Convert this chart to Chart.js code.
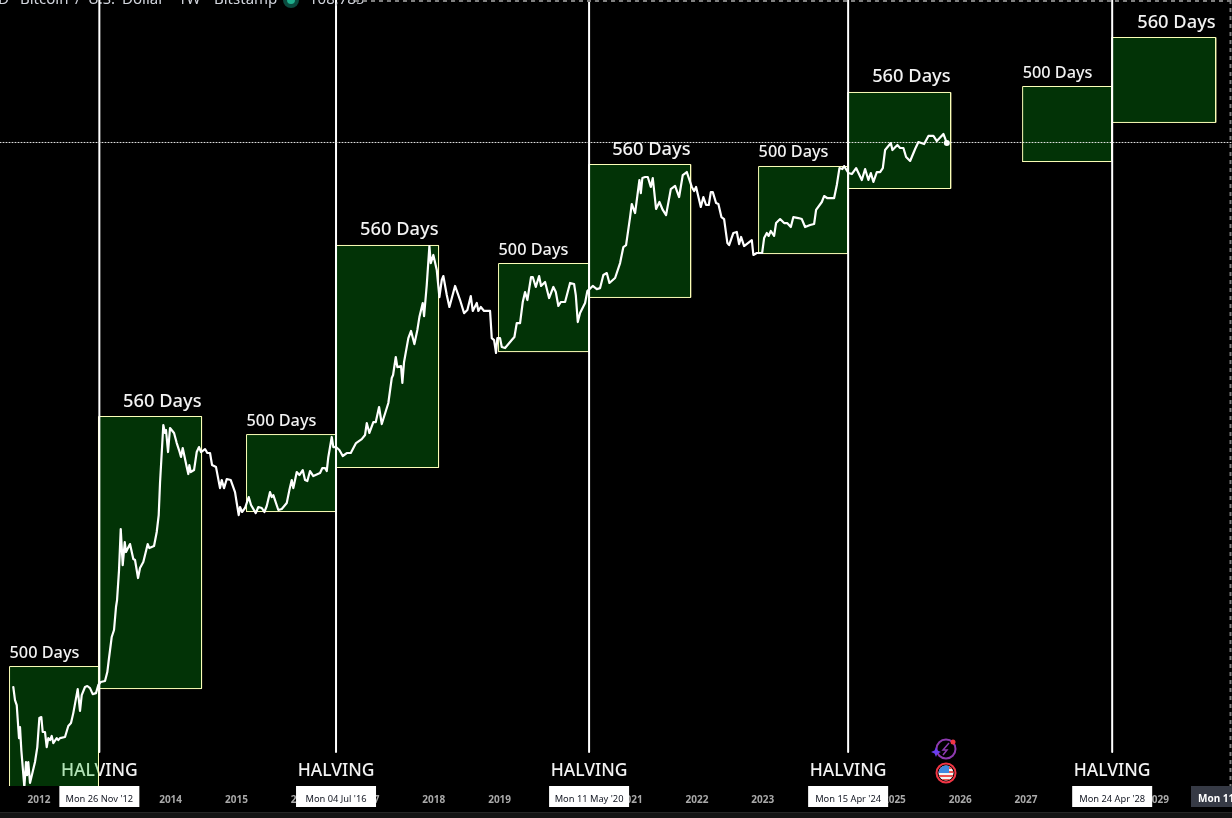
<!DOCTYPE html>
<html>
<head>
<meta charset="utf-8">
<title>Bitcoin halving cycles</title>
<script src="https://cdn.jsdelivr.net/npm/chart.js@4/dist/chart.umd.min.js"></script>
<style>
  html, body { margin: 0; padding: 0; background: #000; }
  #wrap { width: 1232px; height: 818px; }
</style>
</head>
<body>
<div id="wrap"><canvas id="chart" width="1232" height="818"></canvas></div>
<script>
// x values are decimal years, y values are log10 of the USD price (the source chart is log scale)
const cycle2012Years = [2011.609,2011.635,2011.661,2011.696,2011.711,2011.731,2011.777,2011.802,2011.818,2011.837,2011.863,2011.939,2011.974,2012.005,2012.035,2012.056,2012.091,2012.117,2012.141,2012.167,2012.193,2012.217,2012.269,2012.293,2012.319,2012.395,2012.445,2012.486,2012.521,2012.588,2012.623,2012.649,2012.699,2012.734,2012.775,2012.816,2012.866,2012.901];
const cycle2012Prices = [1.194,1.102,1.067,.834,.912,.75,.49,.666,.574,.666,.518,.666,.771,.975,.982,.877,.877,.771,.834,.82,.849,.799,.834,.82,.834,.842,.919,.94,1.01,1.179,1.025,1.137,1.194,1.201,1.186,1.144,1.151,1.208];

const cycle2013Years = [2012.938,2013.003,2013.038,2013.064,2013.105,2013.14,2013.17,2013.186,2013.216,2013.242,2013.272,2013.303,2013.322,2013.383,2013.433,2013.459,2013.505,2013.535,2013.585,2013.652,2013.677,2013.748,2013.789,2013.819,2013.839,2013.889,2013.915,2013.93,2013.961,2013.991,2014.052,2014.093,2014.128,2014.158,2014.184,2014.245,2014.269,2014.285,2014.306,2014.356,2014.397,2014.432,2014.462,2014.523,2014.558,2014.599,2014.63,2014.69,2014.751,2014.777,2014.812,2014.853,2014.914,2014.979,2015.005,2015.035,2015.055,2015.086,2015.131];
const cycle2013Prices = [1.229,1.236,1.299,1.398,1.546,1.595,1.757,1.806,2.017,2.306,2.052,2.214,2.144,2.2,2.095,2.088,1.961,2.031,2.074,2.2,2.172,2.186,2.285,2.404,2.63,3.038,2.982,3.003,2.848,3.017,2.982,2.911,2.862,2.813,2.876,2.742,2.693,2.756,2.707,2.721,2.848,2.883,2.848,2.869,2.841,2.841,2.756,2.742,2.594,2.651,2.594,2.658,2.651,2.566,2.489,2.404,2.461,2.426,2.454];

const cycle2016Years = [2015.187,2015.222,2015.294,2015.333,2015.385,2015.425,2015.461,2015.511,2015.537,2015.561,2015.637,2015.689,2015.765,2015.805,2015.841,2015.865,2015.917,2015.957,2016.008,2016.043,2016.078,2016.119,2016.169,2016.271,2016.306,2016.347,2016.373,2016.397,2016.449,2016.473,2016.514];
const cycle2016Prices = [2.531,2.475,2.418,2.461,2.454,2.426,2.468,2.566,2.531,2.545,2.44,2.447,2.489,2.58,2.651,2.594,2.707,2.686,2.721,2.651,2.644,2.714,2.679,2.7,2.735,2.735,2.714,2.813,2.954,2.883,2.883];

const cycle2017Years = [2016.565,2016.616,2016.677,2016.738,2016.818,2016.905,2016.955,2016.981,2017.021,2017.081,2017.118,2017.168,2017.209,2017.309,2017.361,2017.381,2017.422,2017.446,2017.502,2017.522,2017.548,2017.613,2017.654,2017.705,2017.75,2017.781,2017.832,2017.852,2017.893,2017.933,2017.954,2017.993,2018.045,2018.085,2018.121,2018.145,2018.197,2018.237,2018.323,2018.399,2018.46,2018.51,2018.562,2018.592,2018.653,2018.677,2018.714,2018.764,2018.855,2018.881,2018.916,2018.946,2018.966];
const cycle2017Prices = [2.862,2.82,2.841,2.841,2.911,2.939,2.968,3.052,2.982,3.059,3.059,3.165,3.045,3.193,3.369,3.39,3.517,3.446,3.453,3.334,3.482,3.65,3.7,3.608,3.707,3.798,3.897,3.805,4.024,4.298,4.178,4.235,4.129,3.939,4.059,4.087,3.953,3.869,4.017,3.918,3.826,3.848,3.946,3.841,3.897,3.841,3.869,3.841,3.841,3.65,3.636,3.545,3.65];

const cycle2020Years = [2019.007,2019.033,2019.083,2019.185,2019.225,2019.261,2019.311,2019.352,2019.387,2019.422,2019.478,2019.504,2019.55,2019.6,2019.63,2019.691,2019.752,2019.817,2019.854,2019.893,2019.93,2019.995,2020.071,2020.132,2020.158,2020.188,2020.223,2020.299,2020.334,2020.349];
const cycle2020Prices = [3.65,3.587,3.58,3.636,3.658,3.756,3.756,3.904,3.974,3.918,4.08,4.08,4.01,4.087,4.017,4.045,3.932,4.01,3.974,3.876,3.904,3.904,4.038,4.031,3.953,3.763,3.826,3.897,3.981,3.988];

const cycle2021Years = [2020.416,2020.477,2020.527,2020.577,2020.629,2020.669,2020.755,2020.831,2020.881,2020.922,2020.983,2021.009,2021.059,2021.125,2021.146,2021.17,2021.211,2021.252,2021.298,2021.328,2021.378,2021.429,2021.48,2021.53,2021.602,2021.667,2021.728,2021.784,2021.845,2021.921,2021.956,2021.986,2022.058,2022.097,2022.138,2022.179,2022.21,2022.24,2022.29,2022.325,2022.371,2022.412,2022.462,2022.488,2022.553,2022.605,2022.64,2022.67,2022.716,2022.833,2022.857,2022.909,2022.99];
const cycle2021Prices = [4.017,3.995,4.002,4.094,4.108,4.038,4.073,4.178,4.291,4.305,4.502,4.594,4.53,4.763,4.671,4.777,4.784,4.784,4.714,4.777,4.559,4.608,4.552,4.516,4.699,4.721,4.643,4.798,4.819,4.714,4.685,4.714,4.573,4.643,4.587,4.587,4.678,4.678,4.601,4.594,4.502,4.488,4.319,4.305,4.39,4.397,4.312,4.362,4.298,4.34,4.235,4.249,4.249];

const cycle2024Years = [2023.02,2023.061,2023.088,2023.122,2023.172,2023.202,2023.263,2023.324,2023.37,2023.426,2023.465,2023.541,2023.593,2023.643,2023.719,2023.78,2023.81,2023.897,2023.932,2023.978,2024.084,2024.125,2024.165,2024.21,2024.236,2024.301,2024.353,2024.418,2024.505,2024.555,2024.605,2024.642,2024.681,2024.733,2024.783,2024.824,2024.859,2024.946,2024.97,2025.046,2025.087,2025.137,2025.178,2025.239,2025.315,2025.365,2025.452,2025.517,2025.593,2025.645,2025.745,2025.797];
const cycle2024Prices = [4.354,4.39,4.369,4.404,4.369,4.46,4.488,4.46,4.46,4.432,4.502,4.495,4.488,4.432,4.446,4.453,4.552,4.608,4.65,4.636,4.636,4.728,4.847,4.84,4.861,4.812,4.805,4.847,4.763,4.84,4.763,4.812,4.749,4.819,4.819,4.847,4.974,5.023,4.974,5.009,4.988,4.988,4.925,4.897,4.981,5.03,5.016,5.073,5.073,5.037,5.087,5.023];

// rectangles: 500 days before and 560 days after each halving
const boxLabels = ["500 Days","560 Days","500 Days","560 Days","500 Days","560 Days","500 Days","560 Days","500 Days","560 Days"];
const boxStart = [2011.552,2012.904,2015.154,2016.507,2018.984,2020.352,2022.936,2024.289,2026.949,2028.302];
const boxEnd   = [2012.904,2014.47,2016.507,2018.072,2020.352,2021.903,2024.289,2025.855,2028.302,2029.883];
const boxHigh  = [1.338,3.098,2.971,4.302,4.175,4.872,4.858,5.379,5.421,5.766];
const boxLow   = [0.46,1.183,2.429,2.739,3.555,3.936,4.245,4.703,4.893,5.168];

const halvingYears = [2012.917,2016.514,2020.36,2024.297,2028.31];
const halvingDates = ["Mon 26 Nov '12","Mon 04 Jul '16","Mon 11 May '20","Mon 15 Apr '24","Mon 24 Apr '28"];
const lastPrice = 5.027;

const X_MIN = 2011.407, X_MAX = 2030.131;
const Y_MIN = 0.497, Y_MAX = 6.03;
const HALVING_FLOOR = 0.736; // the vertical lines stop short of the axis

// the end ticks carry no label, that keeps Chart.js from padding the axis for them
const yearTicks = [X_MIN,2012,2013,2014,2015,2016,2017,2018,2019,2020,2021,2022,2023,2024,2025,2026,2027,2028,2029,2030,X_MAX];

// pieces of the cut-off legend line and where they start
const legendWords = ["D","·","Bitcoin","/","U.S.","Dollar","·","1W","·","Bitstamp"];
const legendWordX = [-2,13,20,75,88,122,168,178,208,214];

const LABEL_FONT = '"Noto Sans", sans-serif';

const priceYears = [].concat(cycle2012Years, cycle2013Years, cycle2016Years, cycle2017Years, cycle2020Years, cycle2021Years, cycle2024Years);
const priceValues = [].concat(cycle2012Prices, cycle2013Prices, cycle2016Prices, cycle2017Prices, cycle2020Prices, cycle2021Prices, cycle2024Prices);

const priceDataset = {
  label: "BTCUSD",
  data: priceYears.map((x, i) => ({ x, y: priceValues[i] })),
  borderColor: "#ffffff",
  borderWidth: 2.2,
  pointRadius: 0,
  tension: 0,
  order: 1
};

const endDot = {
  label: "Last",
  data: [{ x: priceYears[priceYears.length - 1], y: priceValues[priceValues.length - 1] }],
  pointRadius: 3,
  pointBackgroundColor: "#fff",
  pointBorderWidth: 0,
  showLine: false,
  order: 0
};

const lastLine = {
  label: "Last price",
  data: [{ x: X_MIN, y: lastPrice }, { x: X_MAX, y: lastPrice }],
  borderColor: "#e6e6e6",
  borderWidth: 1,
  borderDash: [1, 2],
  pointRadius: 0,
  order: 2
};

const halvingSets = halvingYears.map((yr, i) => ({
  label: "Halving " + (i + 1),
  data: [{ x: yr, y: HALVING_FLOOR }, { x: yr, y: Y_MAX }],
  borderColor: "#ffffff",
  borderWidth: 2,
  pointRadius: 0,
  order: 3
}));

const boxSets = boxLabels.map((name, i) => ({
  label: name,
  data: [
    { x: boxStart[i], y: boxLow[i] },
    { x: boxStart[i], y: boxHigh[i] },
    { x: boxEnd[i], y: boxHigh[i] },
    { x: boxEnd[i], y: boxLow[i] },
    { x: boxStart[i], y: boxLow[i] }
  ],
  borderColor: "#fdffb8",
  borderWidth: 1,
  backgroundColor: "rgba(8,188,24,0.27)",
  fill: "shape",
  pointRadius: 0,
  tension: 0,
  order: 4
}));

// text under the boxes, the first HALVING shows through the green in the original
const underBoxText = {
  id: "underBoxText",
  beforeDatasetsDraw(chart) {
    const { ctx, scales } = chart;
    ctx.save();
    ctx.fillStyle = "#f2f2f2";
    ctx.font = "500 17.5px " + LABEL_FONT;
    ctx.textAlign = "center";
    ctx.textBaseline = "middle";
    halvingYears.forEach(yr => ctx.fillText("HALVING", scales.x.getPixelForValue(yr), 771));
    ctx.restore();
  }
};

function drawFlagIcon(ctx, cx, cy) {
  ctx.beginPath();
  ctx.arc(cx, cy, 9.5, 0, Math.PI * 2);
  ctx.strokeStyle = "#f23645";
  ctx.lineWidth = 2;
  ctx.stroke();
  ctx.save();
  ctx.beginPath();
  ctx.arc(cx, cy, 7.5, 0, Math.PI * 2);
  ctx.clip();
  ctx.fillStyle = "#f4f4f4";
  ctx.fillRect(cx - 8, cy - 8, 16, 16);
  ctx.fillStyle = "#ef5350";
  ctx.fillRect(cx - 8, cy - 6, 16, 2);
  ctx.fillRect(cx - 8, cy - 2, 16, 2);
  ctx.fillRect(cx - 8, cy + 2, 16, 2);
  ctx.fillRect(cx - 8, cy + 6, 16, 2);
  ctx.fillStyle = "#3f8ae0";
  ctx.fillRect(cx - 8, cy - 8, 11, 8);
  ctx.restore();
}

function drawBoltIcon(ctx, cx, cy) {
  ctx.beginPath();
  ctx.arc(cx, cy, 9.5, 0, Math.PI * 2);
  ctx.strokeStyle = "#8e3ab0";
  ctx.lineWidth = 2;
  ctx.stroke();
  ctx.beginPath();
  ctx.moveTo(cx + 3, cy - 6);
  ctx.lineTo(cx - 3, cy + 1);
  ctx.lineTo(cx + 1, cy + 1);
  ctx.lineTo(cx - 3, cy + 6);
  ctx.strokeStyle = "#8e3ab0";
  ctx.lineWidth = 1.5;
  ctx.stroke();
  ctx.fillStyle = "#f23645";
  ctx.beginPath();
  ctx.arc(cx + 7, cy - 7, 2.5, 0, Math.PI * 2);
  ctx.fill();
  ctx.fillStyle = "#6a3df0";
  ctx.beginPath();
  ctx.moveTo(cx - 10, cy - 2);
  ctx.lineTo(cx - 8.5, cy + 1.5);
  ctx.lineTo(cx - 5, cy + 3);
  ctx.lineTo(cx - 8.5, cy + 4.5);
  ctx.lineTo(cx - 10, cy + 8);
  ctx.lineTo(cx - 11.5, cy + 4.5);
  ctx.lineTo(cx - 15, cy + 3);
  ctx.lineTo(cx - 11.5, cy + 1.5);
  ctx.closePath();
  ctx.fill();
}

// box captions, date tags, header strip and the icons sit above everything else
const overlayText = {
  id: "overlayText",
  afterDraw(chart) {
    const { ctx, scales } = chart;
    const x = scales.x, y = scales.y;
    ctx.save();

    ctx.textBaseline = "alphabetic";
    boxLabels.forEach((name, i) => {
      const top = y.getPixelForValue(boxHigh[i]);
      ctx.fillStyle = "#f2f2f2";
      if (name === "560 Days") {
        ctx.font = "500 18.3px " + LABEL_FONT;
        ctx.textAlign = "right";
        ctx.fillText(name, x.getPixelForValue(boxEnd[i]), top - 10);
      } else {
        ctx.font = "500 16.3px " + LABEL_FONT;
        ctx.textAlign = "left";
        ctx.fillText(name, x.getPixelForValue(boxStart[i]), top - 9);
      }
    });

    // date tags on the time axis
    ctx.font = "9.3px " + LABEL_FONT;
    ctx.textAlign = "center";
    ctx.textBaseline = "middle";
    halvingYears.forEach((yr, i) => {
      const px = x.getPixelForValue(yr);
      ctx.fillStyle = "#ffffff";
      ctx.fillRect(px - 40, 786, 80, 21);
      ctx.fillStyle = "#131722";
      ctx.fillText(halvingDates[i], px, 799);
    });
    ctx.fillStyle = "#363a45";
    ctx.fillRect(1191, 786, 41, 21);
    ctx.fillStyle = "#ffffff";
    ctx.font = "bold 10px " + LABEL_FONT;
    ctx.textAlign = "left";
    ctx.fillText("Mon 11 Aug '25", 1198, 799);

    // footer rule
    ctx.fillStyle = "#262626";
    ctx.fillRect(0, 812, 1232, 1);
    ctx.fillStyle = "#141414";
    ctx.fillRect(0, 813, 1232, 5);

    // clipped legend line at the very top
    ctx.font = "15px " + LABEL_FONT;
    ctx.textAlign = "left";
    ctx.textBaseline = "alphabetic";
    ctx.fillStyle = "#d1d4dc";
    legendWords.forEach((word, i) => ctx.fillText(word, legendWordX[i], 4));
    ctx.fillText("108,785", 309, 4);
    ctx.fillStyle = "#0a4a3e";
    ctx.beginPath();
    ctx.arc(291, 0, 8, 0, Math.PI * 2);
    ctx.fill();
    ctx.fillStyle = "#1fae8c";
    ctx.beginPath();
    ctx.arc(291, 0, 4, 0, Math.PI * 2);
    ctx.fill();

    // dashed frame of the pane
    ctx.strokeStyle = "#7f7f7f";
    ctx.lineWidth = 2;
    ctx.setLineDash([4, 4]);
    ctx.beginPath();
    ctx.moveTo(355, 1);
    ctx.lineTo(1232, 1);
    ctx.moveTo(1230.5, 0);
    ctx.lineTo(1230.5, 786);
    ctx.stroke();
    ctx.setLineDash([]);

    drawBoltIcon(ctx, 946, 749);
    drawFlagIcon(ctx, 946, 773);
    ctx.restore();
  }
};

new Chart(document.getElementById("chart"), {
  type: "scatter",
  data: { datasets: [priceDataset, endDot, lastLine, ...halvingSets, ...boxSets] },
  plugins: [underBoxText, overlayText],
  options: {
    responsive: false,
    animation: false,
    showLine: true,
    layout: { autoPadding: false, padding: 0 },
    plugins: { legend: { display: false }, tooltip: { enabled: false } },
    elements: { line: { borderCapStyle: "round", borderJoinStyle: "round" } },
    scales: {
      x: {
        type: "linear",
        bounds: "data",
        min: X_MIN,
        max: X_MAX,
        grid: { display: false },
        border: { display: false },
        afterBuildTicks(scale) { scale.ticks = yearTicks.map(value => ({ value })); },
        afterFit(scale) { scale.height = 32; },
        ticks: {
          autoSkip: false,
          maxRotation: 0,
          padding: 0,
          color: "#a9a9a9",
          font: { family: LABEL_FONT, size: 10, weight: "bold" },
          callback: v => Number.isInteger(v) ? String(v) : ""
        }
      },
      y: { display: false, min: Y_MIN, max: Y_MAX }
    }
  }
});
</script>
</body>
</html>
